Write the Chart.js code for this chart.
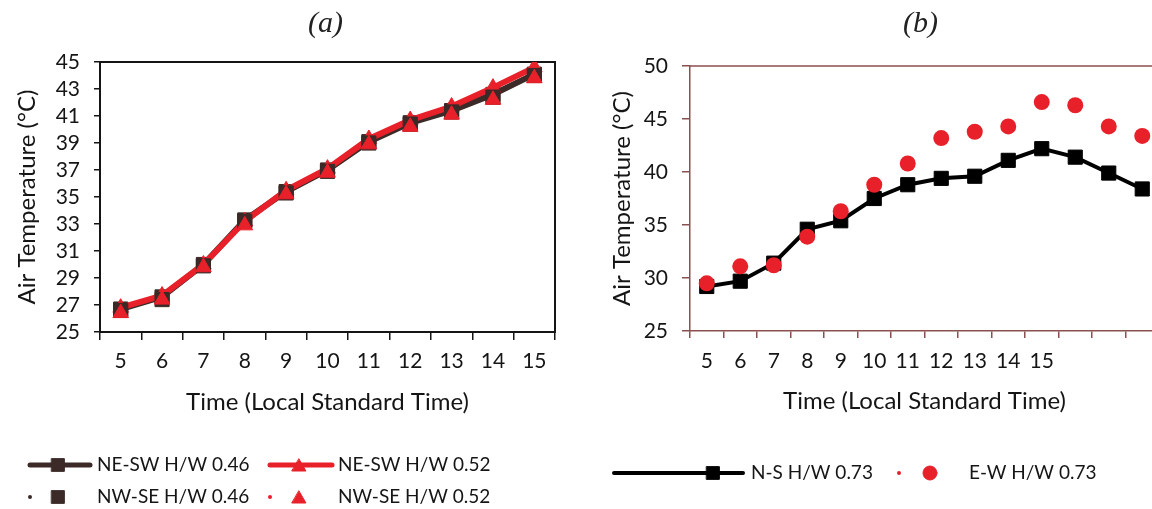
<!DOCTYPE html>
<html>
<head>
<meta charset="utf-8">
<script src="https://cdn.jsdelivr.net/npm/chart.js@4.4.1/dist/chart.umd.min.js"></script>
<style>
  html, body { margin: 0; padding: 0; background: #fff; width: 1152px; height: 509px; overflow: hidden; }
  .panel { position: absolute; top: 0; height: 509px; }
  .title { position: absolute; top: 5px; font: italic 30px 'Liberation Serif', serif; color: #222; }
</style>
</head>
<body>
<div class="panel" style="left:0;width:580px;"><canvas id="chartA"></canvas></div>
<div class="panel" style="left:580px;width:600px;"><canvas id="chartB"></canvas></div>
<div class="title" style="left:308px">(a)</div>
<div class="title" style="left:903px">(b)</div>
<script>
// panel (a)
const hoursA = ['5', '6', '7', '8', '9', '10', '11', '12', '13', '14', '15'];
const neSw046 = [26.7, 27.6, 30.0, 33.3, 35.4, 37.0, 39.1, 40.5, 41.4, 42.6, 44.1];
const neSw052 = [26.8, 27.7, 30.0, 33.2, 35.5, 37.1, 39.3, 40.7, 41.7, 43.1, 44.6];
const nwSe046 = [26.6, 27.4, 29.9, 33.2, 35.3, 36.9, 39.0, 40.4, 41.3, 42.4, 44.0];
const nwSe052 = [26.4, 27.4, 29.8, 32.9, 35.2, 36.8, 38.9, 40.2, 41.1, 42.2, 43.8];

// panel (b) - last three hours have no tick label in the original
const hoursB = ['5', '6', '7', '8', '9', '10', '11', '12', '13', '14', '15', '', '', ''];
const ns073 = [29.2, 29.7, 31.4, 34.6, 35.4, 37.5, 38.8, 39.4, 39.6, 41.1, 42.2, 41.4, 39.9, 38.4];
const ew073 = [29.5, 31.1, 31.2, 33.9, 36.3, 38.8, 40.8, 43.2, 43.8, 44.3, 46.6, 46.3, 44.3, 43.4];

const dark = '#3b2a27';
const red = '#e8202a';
const brown = '#8a4f4f';
const ink = '#151515';
const FONT = 'Lato, "Open Sans", sans-serif';
const tickFont = { family: FONT, size: 21 };
const titleFont = { family: FONT, size: 24 };

// draws the Excel-like legend rows under each panel
const legendRows = {
  id: 'legendRows',
  afterDraw(chart, args, opts) {
    const ctx = chart.ctx;
    ctx.save();
    (opts.items || []).forEach(it => {
      ctx.strokeStyle = it.color;
      ctx.fillStyle = it.color;
      if (it.line) {
        ctx.lineWidth = it.lineWidth;
        ctx.lineCap = 'round';
        ctx.beginPath();
        ctx.moveTo(it.line[0], it.y);
        ctx.lineTo(it.line[1], it.y);
        ctx.stroke();
      }
      if (it.dot) {
        ctx.beginPath();
        ctx.arc(it.dot, it.y, 2, 0, Math.PI * 2);
        ctx.fill();
      }
      ctx.lineWidth = 1;
      Chart.helpers.drawPoint(ctx, { pointStyle: it.style, radius: it.r, rotation: 0, borderWidth: 1 }, it.mx, it.y + (it.style === 'triangle' ? 2 : 0));
      ctx.fillStyle = ink;
      ctx.font = '19px ' + FONT;
      ctx.textBaseline = 'middle';
      ctx.fillText(it.text, it.tx, it.y);
    });
    ctx.restore();
  }
};

const frame = {
  id: 'frame',
  beforeDatasetsDraw(chart, args, opts) {
    const { ctx, chartArea: a } = chart;
    ctx.save();
    ctx.strokeStyle = opts.color;
    ctx.lineWidth = opts.width;
    ctx.beginPath();
    if (opts.full) {
      ctx.rect(a.left, a.top, a.right - a.left, a.bottom - a.top);
    } else {
      ctx.moveTo(a.left, a.top);
      ctx.lineTo(a.right, a.top);
    }
    ctx.stroke();
    ctx.restore();
  }
};

new Chart(document.getElementById('chartA'), {
  type: 'line',
  data: {
    labels: hoursA,
    datasets: [
      { label: 'NE-SW H/W 0.46', data: neSw046, borderColor: dark, backgroundColor: dark, borderWidth: 6,
        pointStyle: 'rect', pointRadius: 10, pointBorderWidth: 1, order: 4 },
      { label: 'NE-SW H/W 0.52', data: neSw052, borderColor: red, backgroundColor: red, borderWidth: 6,
        pointStyle: 'triangle', pointRadius: 9, pointBorderWidth: 1, order: 3 },
      { label: 'NW-SE H/W 0.46', data: nwSe046, showLine: false, borderColor: dark, backgroundColor: dark,
        pointStyle: 'rect', pointRadius: 10, pointBorderWidth: 1, order: 2 },
      { label: 'NW-SE H/W 0.52', data: nwSe052, showLine: false, borderColor: red, backgroundColor: red,
        pointStyle: 'triangle', pointRadius: 9, pointBorderWidth: 1, order: 1 }
    ]
  },
  options: {
    responsive: true,
    maintainAspectRatio: false,
    animation: false,
    layout: { padding: { left: 0, right: 25, top: 62, bottom: 88 } },
    plugins: {
      legend: { display: false },
      tooltip: { enabled: false },
      frame: { color: ink, width: 2, full: true },
      legendRows: {
        items: [
          { y: 465, line: [30, 90], lineWidth: 5, color: dark, style: 'rect', r: 9, mx: 58, text: 'NE-SW H/W 0.46', tx: 97 },
          { y: 465, line: [270, 332], lineWidth: 5, color: red, style: 'triangle', r: 8, mx: 299, text: 'NE-SW H/W 0.52', tx: 338 },
          { y: 497, dot: 30, color: dark, style: 'rect', r: 9, mx: 58, text: 'NW-SE H/W 0.46', tx: 97 },
          { y: 497, dot: 270, color: red, style: 'triangle', r: 8, mx: 299, text: 'NW-SE H/W 0.52', tx: 338 }
        ]
      }
    },
    scales: {
      x: {
        offset: true,
        grid: { offset: true, drawOnChartArea: false, tickLength: 8, color: ink, lineWidth: 1.5 },
        border: { color: ink, width: 2 },
        ticks: { font: tickFont, color: ink, padding: 9, maxRotation: 0 },
        title: { display: true, text: 'Time (Local Standard Time)', font: titleFont, color: ink, padding: { top: 0, bottom: 4 } },
        afterFit: s => { s.height = 89; }
      },
      y: {
        min: 25, max: 45,
        grid: { drawOnChartArea: false, tickLength: 6, color: ink, lineWidth: 1.5 },
        border: { color: ink, width: 2 },
        ticks: { stepSize: 2, autoSkip: false, font: tickFont, color: ink, padding: 14 },
        title: { display: true, text: 'Air Temperature (°C)', font: titleFont, color: ink, padding: { top: 13, bottom: 0 } },
        afterFit: s => { s.width = 100; }
      }
    }
  },
  plugins: [frame, legendRows]
});

new Chart(document.getElementById('chartB'), {
  type: 'line',
  data: {
    labels: hoursB,
    datasets: [
      { label: 'N-S H/W 0.73', data: ns073, borderColor: '#000', backgroundColor: '#000', borderWidth: 4,
        pointStyle: 'rect', pointRadius: 10, pointBorderWidth: 1, order: 2 },
      { label: 'E-W H/W 0.73', data: ew073, showLine: false, borderColor: red, backgroundColor: red,
        pointStyle: 'circle', pointRadius: 8, pointBorderWidth: 0, order: 1 }
    ]
  },
  options: {
    responsive: true,
    maintainAspectRatio: false,
    animation: false,
    layout: { padding: { left: 0, right: 21, top: 66, bottom: 89 } },
    plugins: {
      legend: { display: false },
      tooltip: { enabled: false },
      frame: { color: brown, width: 1.5, full: false },
      legendRows: {
        items: [
          { y: 473, line: [34, 163], lineWidth: 4, color: '#000', style: 'rect', r: 9, mx: 133, text: 'N-S H/W 0.73', tx: 171 },
          { y: 473, dot: 319, color: red, style: 'circle', r: 7, mx: 350, text: 'E-W H/W 0.73', tx: 389 }
        ]
      }
    },
    scales: {
      x: {
        offset: true,
        grid: { offset: true, drawOnChartArea: false, tickLength: 7, color: brown, lineWidth: 1.5 },
        border: { color: brown, width: 1.5 },
        ticks: { font: tickFont, color: ink, padding: 11, maxRotation: 0, autoSkip: false },
        title: { display: true, text: 'Time (Local Standard Time)', font: titleFont, color: ink, padding: { top: 0, bottom: 4 } },
        afterFit: s => { s.height = 89; }
      },
      y: {
        min: 25, max: 50,
        grid: { drawOnChartArea: false, tickLength: 8, color: brown, lineWidth: 1.5 },
        border: { color: brown, width: 1.5 },
        ticks: { stepSize: 5, autoSkip: false, font: tickFont, color: ink, padding: 14 },
        title: { display: true, text: 'Air Temperature (°C)', font: titleFont, color: ink, padding: { top: 28, bottom: 0 } },
        afterFit: s => { s.width = 110; }
      }
    }
  },
  plugins: [frame, legendRows]
});
</script>
</body>
</html>
